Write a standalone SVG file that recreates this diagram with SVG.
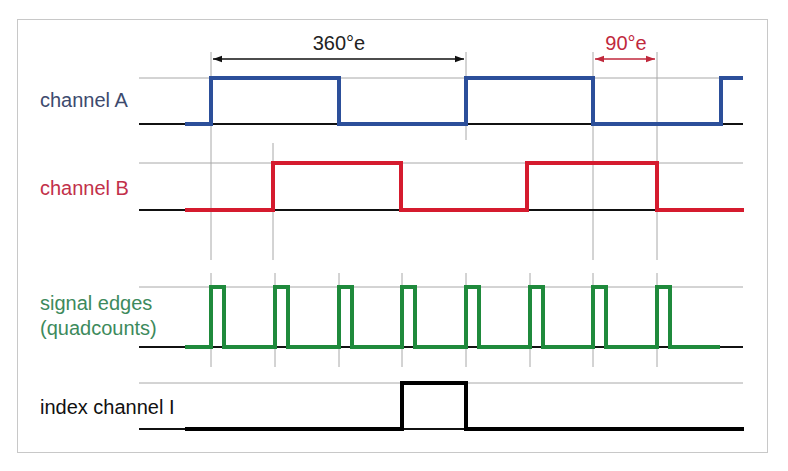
<svg xmlns="http://www.w3.org/2000/svg" width="788" height="471" viewBox="0 0 788 471">
<defs>
<style>
.frame{fill:#fff;stroke:#c8c8c8;stroke-width:1}
.grid{stroke:#a8a8a8;stroke-width:1;fill:none}
.base{stroke:#111;stroke-width:2.2;fill:none}
.sig{fill:none;stroke-width:4;stroke-linejoin:miter;stroke-linecap:butt}
.lbl{font-family:"Liberation Sans",Arial,sans-serif;font-size:20px}
</style>
<marker id="ahK" viewBox="0 0 10 10" refX="10" refY="5" markerWidth="6" markerHeight="6" orient="auto-start-reverse"><path d="M0,1.5 L10,5 L0,8.5 z" fill="#111"/></marker>
<marker id="ahR" viewBox="0 0 10 10" refX="10" refY="5" markerWidth="6" markerHeight="6" orient="auto-start-reverse"><path d="M0,1.5 L10,5 L0,8.5 z" fill="#c0283c"/></marker>
</defs>
<rect class="frame" x="17.5" y="19.5" width="750" height="433"/>

<g id="gridlines">
<line class="grid" x1="139" y1="78" x2="743" y2="78"/>
<line class="grid" x1="139" y1="163" x2="743" y2="163"/>
<line class="grid" x1="139" y1="287" x2="743" y2="287"/>
<line class="grid" x1="139" y1="383" x2="743" y2="383"/>
<line class="grid" x1="211" y1="52" x2="211" y2="260"/>
<line class="grid" x1="466" y1="52" x2="466" y2="140"/>
<line class="grid" x1="593" y1="52" x2="593" y2="260"/>
<line class="grid" x1="657" y1="52" x2="657" y2="260"/>
<line class="grid" x1="273" y1="143" x2="273" y2="260"/>
<line class="grid" x1="211" y1="273" x2="211" y2="367"/>
<line class="grid" x1="275" y1="273" x2="275" y2="367"/>
<line class="grid" x1="339" y1="273" x2="339" y2="367"/>
<line class="grid" x1="402" y1="273" x2="402" y2="367"/>
<line class="grid" x1="466" y1="273" x2="466" y2="367"/>
<line class="grid" x1="530" y1="273" x2="530" y2="367"/>
<line class="grid" x1="593" y1="273" x2="593" y2="367"/>
<line class="grid" x1="657" y1="273" x2="657" y2="367"/>
</g>

<g id="baselines">
<line class="base" x1="139" y1="124" x2="743" y2="124"/>
<line class="base" x1="139" y1="210" x2="743" y2="210"/>
<line class="base" x1="139" y1="347" x2="743" y2="347"/>
<line class="base" x1="139" y1="429" x2="743" y2="429"/>
</g>

<g id="channelA">
<text class="lbl" x="40" y="107" fill="#3d4a6e">channel A</text>
<path class="sig" stroke="#2c4f9a" d="M185,124 H211 V78 H339 V124 H466 V78 H593 V124 H721 V78 H743"/>
</g>

<g id="channelB">
<text class="lbl" x="40" y="195" fill="#c2304a">channel B</text>
<path class="sig" stroke="#d51b2e" d="M185,210 H273 V163 H401 V210 H527 V163 H657 V210 H744"/>
</g>

<g id="signalEdges">
<text class="lbl" x="40" y="310" fill="#3d8a5c">signal edges</text>
<text class="lbl" x="40" y="335" fill="#3d8a5c">(quadcounts)</text>
<path class="sig" stroke="#1f8a3c" d="M185,347 H211 V287 H224 V347 H275 V287 H288 V347 H339 V287 H352 V347 H402 V287 H415 V347 H466 V287 H479 V347 H530 V287 H543 V347 H593 V287 H606 V347 H657 V287 H670 V347 H720"/>
</g>

<g id="indexChannel">
<text class="lbl" x="40" y="414" fill="#111">index channel I</text>
<path class="sig" stroke="#000" d="M185,429 H402 V383 H466 V429 H744"/>
</g>

<g id="connectors">
<line x1="213" y1="59" x2="464" y2="59" stroke="#111" stroke-width="1.5" marker-start="url(#ahK)" marker-end="url(#ahK)"/>
<text class="lbl" x="339" y="50" text-anchor="middle" fill="#222">360°e</text>
<line x1="595" y1="59" x2="655" y2="59" stroke="#c0283c" stroke-width="1.5" marker-start="url(#ahR)" marker-end="url(#ahR)"/>
<text class="lbl" x="626" y="50" text-anchor="middle" fill="#c0283c">90°e</text>
</g>
</svg>
